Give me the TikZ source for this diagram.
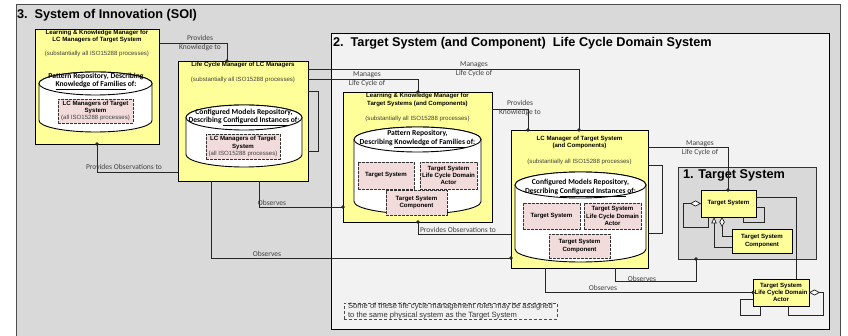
\documentclass[tikz,border=0pt]{standalone}
\usepackage{fontspec}
\setmainfont{Liberation Sans}
\newfontfamily\calfont{Carlito}
\usetikzlibrary{arrows.meta,shadows}

\definecolor{ylw}{HTML}{FFFF99}
\definecolor{pnk}{HTML}{F2DCDB}
\definecolor{lgr}{HTML}{F2F2F2}
\definecolor{mgr}{HTML}{D9D9D9}
\definecolor{ink}{HTML}{262626}

\newcommand\tBox{\fontsize{6.1}{7.3}\selectfont\bfseries}
\newcommand\tProc{\fontsize{6.1}{7.3}\selectfont\mdseries}
\newcommand\tCyl{\calfont\fontsize{7.6}{10}\selectfont\bfseries}
\newcommand\tLbl{\calfont\fontsize{7.5}{9}\selectfont}
\newcommand\tBig{\fontsize{12.7}{14}\selectfont\bfseries}
\newcommand\tNote{\fontsize{7.6}{9}\selectfont}

% drum (repository) outline: x1 x2 ytop ybottom ry
\newcommand\drawdrum[5]{%
  \path[cyl] (#1,#3+#5) -- (#1,#4-#5)
    arc[start angle=180, end angle=0, x radius={(#2-#1)/2}, y radius=#5]
    -- (#2,#3+#5)
    arc[start angle=0, end angle=-180, x radius={(#2-#1)/2}, y radius=#5] -- cycle;
  \draw[cyl] ({(#1+#2)/2},#3+#5) ellipse[x radius={(#2-#1)/2}, y radius=#5];
}

\begin{document}
\begin{tikzpicture}[x=1pt, y=-1pt,
  every node/.style={inner sep=0pt, outer sep=0pt},
  framebox/.style={draw, line width=0.8pt, anchor=north west},
  ybox/.style={draw=black, fill=ylw, line width=0.8pt, anchor=north west,
    general shadow={fill=black!55, shadow xshift=0.9pt, shadow yshift=-0.9pt}},
  umlbox/.style={ybox, align=center, font=\tBox},
  pbox/.style={draw=black!80, fill=pnk, line width=0.9pt,
    dash pattern=on 2.6pt off 1.4pt, anchor=north west, align=center, font=\tBox},
  ttl/.style={align=center, font=\tBox},
  proc/.style={font=\tProc, text=black!75},
  cyltxt/.style={align=center, font=\tCyl},
  lbl/.style={align=center, font=\tLbl, text=black!75},
  conn/.style={draw=ink, line width=0.75pt},
  dot/.style={conn, -{Circle[length=3.6pt]}, shorten >=-1.8pt},
  cyl/.style={draw=black, line width=0.9pt, fill=white},
]
\useasboundingbox (0,0) rectangle (848,336);

% ---- nested system frames
\node[framebox, draw=black!70, fill=mgr, minimum width=824pt, minimum height=336pt] (soi) at (16,4) {};
\node[anchor=base west, font=\tBig] (soi-t) at (17,18.3) {3.\ \ System of Innovation (SOI)};

\node[framebox, draw=black, fill=lgr, minimum width=498pt, minimum height=296pt] (lcd) at (331,33) {};
\node[anchor=base west, font=\tBig] (lcd-t) at (333,46.5) {2.\ \ Target System (and Component)\ \ Life Cycle Domain System};

\node[framebox, draw=black!80, fill=mgr, minimum width=138pt, minimum height=92pt] (F1) at (678,167) {};
\node[anchor=base west, font=\tBig] (F1-t) at (683,179) {1. Target System};

% ---- manager boxes
\node[ybox, minimum width=124pt, minimum height=115pt] (A) at (35,29) {};
\node[ybox, minimum width=130pt, minimum height=120pt] (B) at (178,61) {};
\node[ybox, minimum width=149pt, minimum height=130pt] (C) at (343,92) {};
\node[ybox, minimum width=137pt, minimum height=138pt] (D) at (511,130) {};

\node[ttl] (A-t) at (97,36.5) {Learning \& Knowledge Manager for\\LC Managers of Target System};
\node[proc] (A-s) at (97,54) {(substantially all ISO15288 processes)};
\node[ttl] (B-t) at (243,65) {Life Cycle Manager of LC Managers};
\node[proc] (B-s) at (243,80) {(substantially all ISO15288 processes)};
\node[ttl] (C-t) at (417.5,100) {Learning \& Knowledge Manager for\\Target Systems (and Components)};
\node[proc] (C-s) at (417.5,119) {(substantially all ISO15288 processes)};
\node[ttl] (D-t) at (579.5,142.3) {LC Manager of Target System\\(and Components)};
\node[proc] (D-s) at (579.5,162) {(substantially all ISO15288 processes)};

% ---- repositories
\drawdrum{39}{152}{72}{132}{11.5}
\drawdrum{186}{302}{105}{167}{12.5}
\drawdrum{354}{481}{127}{214}{12.5}
\drawdrum{515}{646}{172}{262}{13}

\node[cyltxt] (A-r1) at (96,76.5) {Pattern Repository, Describing};
\node[cyltxt] (A-r2) at (96,85.5) {\underline{Knowledge of Families} of:};
\node[cyltxt] (B-r1) at (244,112) {Configured Models Repository,};
\node[cyltxt] (B-r2) at (244,121.5) {Describing \underline{Configured Instances} of:};
\node[cyltxt] (C-r1) at (417.5,133) {Pattern Repository,};
\node[cyltxt] (C-r2) at (417.5,143) {Describing \underline{Knowledge of Families} of:};
\node[cyltxt] (D-r1) at (580.5,182) {Configured Models Repository,};
\node[cyltxt] (D-r2) at (580.5,192) {Describing \underline{Configured Instances} of:};

% ---- repository contents
\node[pbox, minimum width=75pt, minimum height=24pt] (A-p) at (58,99)
  {LC Managers of Target\\System\\\textcolor{black!75}{\tProc (all ISO15288 processes)}};
\node[pbox, minimum width=74pt, minimum height=25pt] (B-p) at (206,134)
  {LC Managers of Target\\System\\\textcolor{black!75}{\tProc (all ISO15288 processes)}};
\node[pbox, minimum width=56pt, minimum height=27pt] (C-ts) at (358,162) {Target System};
\node[pbox, minimum width=57pt, minimum height=27pt] (C-act) at (420,162) {Target System\\Life Cycle Domain\\Actor};
\node[pbox, minimum width=61pt, minimum height=25pt] (C-cmp) at (386,190) {Target System\\Component};
\node[pbox, minimum width=57pt, minimum height=26pt] (D-ts) at (523,203) {Target System};
\node[pbox, minimum width=57pt, minimum height=26pt] (D-act) at (584,203) {Target System\\Life Cycle Domain\\Actor};
\node[pbox, minimum width=61pt, minimum height=24pt] (D-cmp) at (549,234) {Target System\\Component};

% ---- target system elements
\node[umlbox, minimum width=55pt, minimum height=27pt] (TS) at (701,190) {Target System};
\node[umlbox, minimum width=60pt, minimum height=24pt] (Comp) at (732,229) {Target System\\Component};
\node[umlbox, minimum width=56pt, minimum height=27pt] (Actor) at (753,279) {Target System\\Life Cycle Domain\\Actor};

% ---- note
\node[draw=black!70, densely dashed, line width=0.6pt, fill=lgr, anchor=north west,
  minimum width=213pt, minimum height=16pt, align=left, font=\tNote, text=black!80] (note) at (344,303)
  {Some of these life cycle management roles may be assigned\\to the same physical system as the Target System};

% ---- connectors between managers
\draw[dot] ([yshift=43pt]A.east) -| ([xshift=49pt]B.north west);
\draw[dot] ([yshift=-51pt]B.west) -| ([xshift=62pt]A.south west);
\draw[dot] ([yshift=42pt]B.east) -| ([xshift=75pt]C.north west);
\draw[dot] ([yshift=52pt]B.east) -| ([xshift=68pt]D.north west);
\draw[conn] ([yshift=30pt]B.east) -- ++(10,0) |- ([yshift=-30pt]B.east);
\draw[dot] ([xshift=81pt]B.south west) |- ([yshift=-50pt]C.west);
\draw[dot] ([xshift=33pt]B.south west) |- ([yshift=-59pt]D.west);
\draw[dot] ([yshift=48pt]C.east) -| ([xshift=17pt]D.north west);
\draw[dot] ([yshift=-35pt]D.west) -| ([xshift=75pt]C.south west);
\draw[conn] ([yshift=34pt]D.east) -- ++(14,0) |- ([yshift=-34pt]D.east);
\draw[dot] ([yshift=52pt]D.east) -| ([xshift=27pt]TS.north west);
\draw[dot] ([xshift=104pt]D.south west) -- ++(0,13) -| ([xshift=18pt]F1.south west);
\draw[dot] ([xshift=34pt]D.south west) |- (Actor.west);

% ---- relations inside the target system
\draw[conn, -{Diamond[fill=white, length=11pt, width=6pt]}]
  ([xshift=7pt]TS.south west) -- ++(0,10) -- ++(-25,0) |- (TS.west);
\draw[conn] ([yshift=-3.5pt]TS.east) -- ++(8,0) -- ++(0,15.5) -| ([xshift=-13pt]TS.south east);
\draw[conn] ([yshift=6.5pt]TS.east) -| ([xshift=-13pt]Actor.north east);
\draw[conn, -{Triangle[fill=white, length=6.5pt, width=5.5pt]}]
  ([yshift=-6pt]Comp.west) -| ([xshift=13pt]TS.south west);
\draw[conn, -{Diamond[fill=white, length=10pt, width=5.5pt]}]
  ([yshift=5pt]Comp.west) -| ([xshift=21pt]TS.south west);
\draw[conn] ([xshift=7pt]Actor.south west) -- ++(0,9) -- ++(-20,0) |- ([yshift=-6.5pt]Actor.west);
\draw[conn, -{Diamond[fill=white, length=11pt, width=6pt]}]
  ([xshift=-21pt]Actor.south east) -- ++(0,9) -- ++(35,0) |- (Actor.east);

% ---- connector labels
\node[lbl] (l-ab) at (200,43) {Provides\\Knowledge to};
\node[lbl] (l-ba) at (124,167) {Provides Observations to};
\node[lbl] (l-bc) at (367,79.5) {Manages\\Life Cycle of};
\node[lbl] (l-bd) at (474,69.5) {Manages\\Life Cycle of};
\node[lbl] (l-bco) at (272,203) {Observes};
\node[lbl] (l-bdo) at (267,254) {Observes};
\node[lbl] (l-cd) at (520,108) {Provides\\Knowledge to};
\node[lbl] (l-dc) at (458,230) {Provides Observations to};
\node[lbl] (l-dts) at (700,148) {Manages\\Life Cycle of};
\node[lbl] (l-df) at (642,278.5) {Observes};
\node[lbl] (l-da) at (603,288) {Observes};
\end{tikzpicture}
\end{document}
